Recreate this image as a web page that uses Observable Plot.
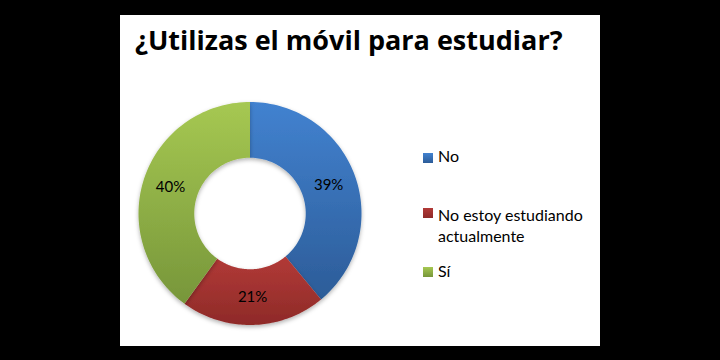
<!DOCTYPE html>
<html><head><meta charset="utf-8">
<script src="https://cdn.jsdelivr.net/npm/d3@7"></script>
<script src="https://cdn.jsdelivr.net/npm/@observablehq/plot@0.6"></script>
<style>
html,body{margin:0;padding:0;background:#000;width:720px;height:360px;overflow:hidden;}
#panel{position:absolute;left:120px;top:15px;width:480px;height:331px;background:#fff;overflow:hidden;}
#title{position:absolute;left:15px;top:11px;font:bold 27px "Open Sans",sans-serif;line-height:27px;color:#000;white-space:nowrap;}
#chart{position:absolute;left:0;top:60px;}
</style>
</head><body>
<div id="panel"><div id="title">¿Utilizas el móvil para estudiar?</div><div id="chart"></div></div>
<script>
const categories = ["No", "No estoy estudiando actualmente", "Sí"];
const values = [39, 21, 40];
const labels = ["39%", "21%", "40%"];
const legendLines = [["No"], ["No estoy estudiando", "actualmente"], ["Sí"]];
const colorTop = ["#4282d0", "#b23a37", "#a6c852"];
const colorBottom = ["#2c5c98", "#8e2a28", "#77963a"];

const innerR = 0.5, outerR = 1;
const arcs = d3.pie().sort(null)(values);
const polys = [];
arcs.forEach((a, i) => {
  const n = 80;
  for (let k = 0; k <= n; k++) {
    const t = a.startAngle + (a.endAngle - a.startAngle) * k / n;
    polys.push({cat: categories[i], x: outerR * Math.sin(t), y: outerR * Math.cos(t)});
  }
  for (let k = n; k >= 0; k--) {
    const t = a.startAngle + (a.endAngle - a.startAngle) * k / n;
    polys.push({cat: categories[i], x: innerR * Math.sin(t), y: innerR * Math.cos(t)});
  }
});
const centroids = arcs.map((a, i) => {
  const m = (a.startAngle + a.endAngle) / 2, r = (innerR + outerR) / 2;
  return {label: labels[i], x: r * Math.sin(m), y: r * Math.cos(m)};
});

const cx = 129.5, cy = 138, R = 111.5;
const plot = Plot.plot({
  width: 480, height: 271,
  margin: 0,
  style: {background: "transparent", overflow: "visible"},
  x: {domain: [-1, 1], range: [cx - R, cx + R], axis: null},
  y: {domain: [-1, 1], range: [cy + R, cy - R], axis: null},
  marks: [
    ...categories.map((c, i) => Plot.line(polys.filter(d => d.cat === c), {
      x: "x", y: "y", fill: `url(#grad${i})`, stroke: "none"
    })),
    Plot.text(centroids, {x: "x", y: "y", text: "label", fontSize: 15, fill: "#000",
      fontFamily: "Lato, sans-serif"})
  ]
});
const svg = d3.select(plot);
const defs = svg.insert("defs", ":first-child");
categories.forEach((c, i) => {
  const g = defs.append("linearGradient").attr("id", `grad${i}`)
    .attr("x1", 0).attr("y1", 0).attr("x2", 0).attr("y2", 1);
  g.append("stop").attr("offset", "0%").attr("stop-color", colorTop[i]);
  g.append("stop").attr("offset", "100%").attr("stop-color", colorBottom[i]);
});
const f = defs.append("filter").attr("id", "shadow").attr("x", "-20%").attr("y", "-20%").attr("width", "140%").attr("height", "140%");
f.append("feDropShadow").attr("dx", 0).attr("dy", 2).attr("stdDeviation", 2).attr("flood-color", "#000").attr("flood-opacity", 0.3);
svg.selectAll("g[aria-label='line']").attr("filter", "url(#shadow)");

// legend
const lx = 303, tx = 318;
const sqY = [78, 133, 192];
const baseY = [[86.7], [145.7, 166.7], [201.7]];
const leg = svg.append("g").attr("font-family", "Lato, sans-serif").attr("font-size", 16).attr("text-anchor", "start");
categories.forEach((c, i) => {
  leg.append("rect").attr("x", lx).attr("y", sqY[i]).attr("width", 10).attr("height", 10)
    .attr("fill", `url(#grad${i})`);
  legendLines[i].forEach((t, j) => {
    leg.append("text").attr("x", tx).attr("y", baseY[i][j]).attr("fill", "#000").attr("text-anchor", "start").text(t);
  });
});
document.getElementById("chart").appendChild(plot);
</script>
</body></html>
